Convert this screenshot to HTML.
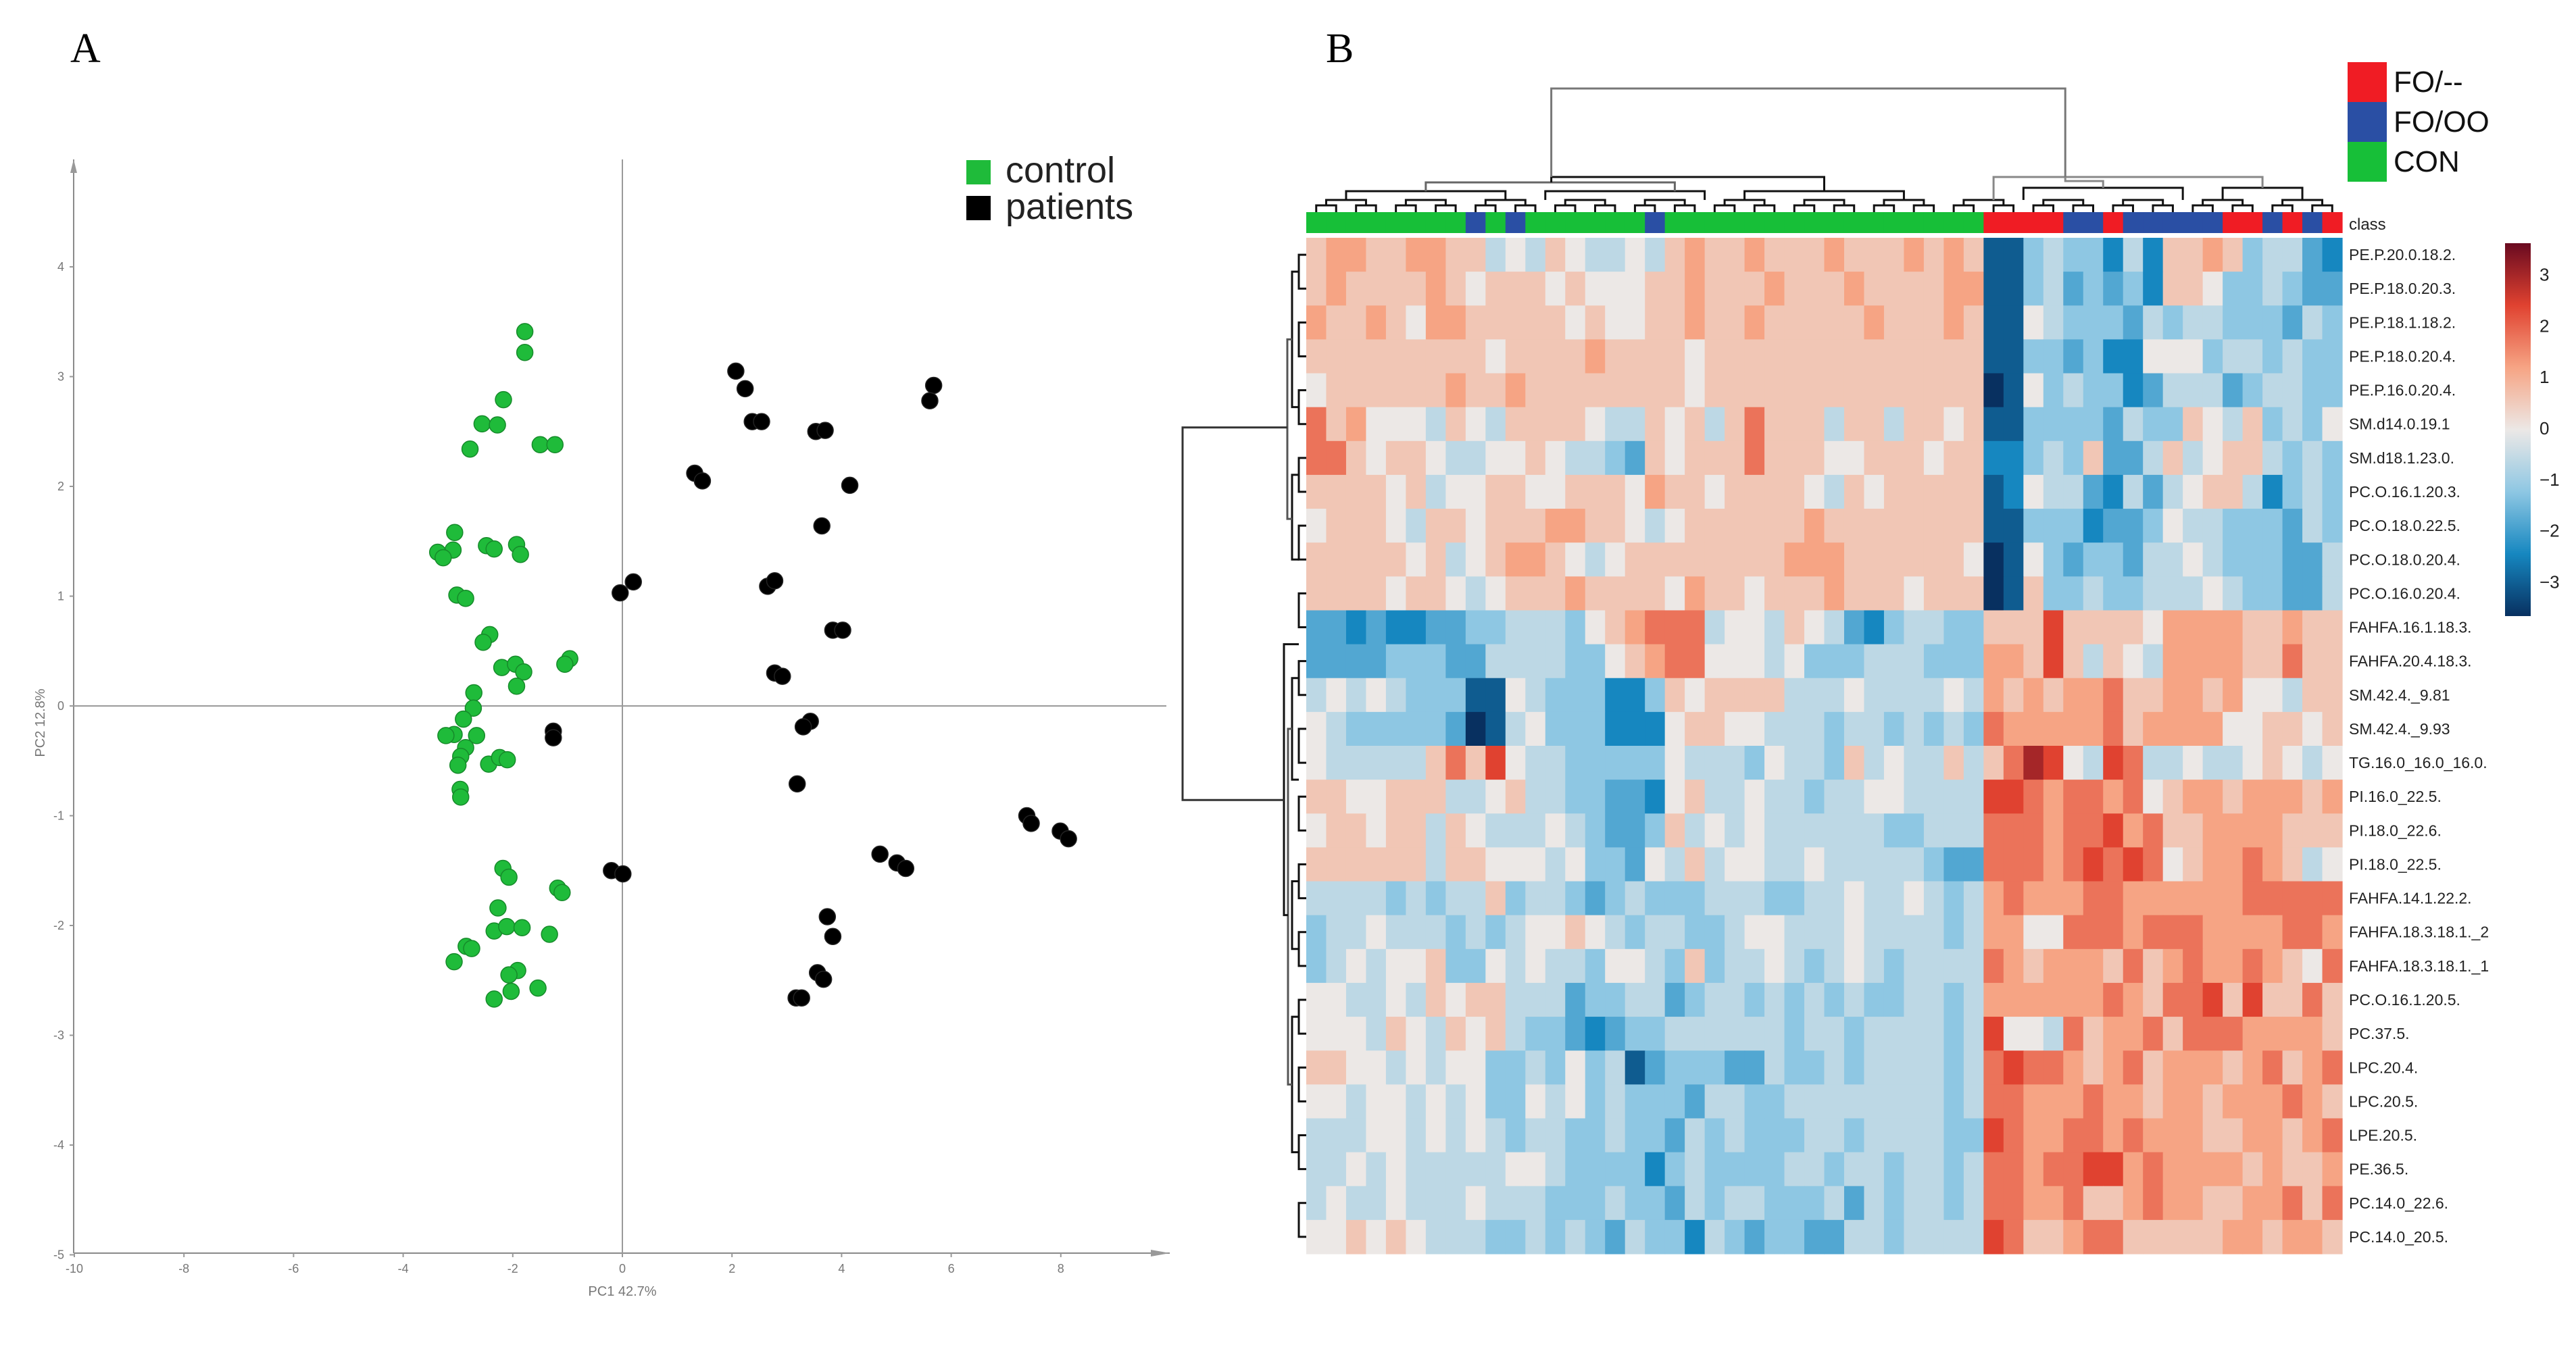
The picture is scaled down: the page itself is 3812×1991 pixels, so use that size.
<!DOCTYPE html>
<html><head><meta charset="utf-8">
<style>
html,body{margin:0;padding:0;background:#fff;}
svg{display:block;}
</style></head>
<body>
<svg id="fig" width="3812" height="1991" viewBox="0 0 3812 1991" xmlns="http://www.w3.org/2000/svg" font-family="Liberation Sans, sans-serif">
  <text x="104" y="92" font-family="Liberation Serif, serif" font-size="62">A</text>
  <text x="1962" y="92" font-family="Liberation Serif, serif" font-size="62">B</text>
  <g id="pca"></g>
  <g id="heat"></g>
</svg>
<script>
// ---------- PCA data ----------
const controlPC1 = [-1.78,-1.78,-2.17,-2.56,-2.28,-2.78,-1.5,-1.23,-3.06,-3.09,-3.37,-3.27,-2.48,-2.34,-1.93,-1.86,-3.02,-2.86,-2.42,-2.54,-2.2,-1.95,-1.8,-1.93,-0.96,-1.05,-2.71,-2.72,-2.9,-3.07,-3.22,-2.66,-2.86,-2.95,-3.0,-2.44,-2.24,-2.1,-2.96,-2.95,-2.18,-2.07,-1.18,-1.1,-2.27,-2.34,-2.11,-1.83,-1.33,-2.85,-2.75,-3.07,-1.91,-2.07,-1.54,-2.03,-2.34];
const controlPC2 = [3.41,3.22,2.79,2.57,2.56,2.34,2.38,2.38,1.58,1.42,1.40,1.35,1.46,1.43,1.47,1.38,1.01,0.98,0.65,0.58,0.35,0.38,0.31,0.18,0.43,0.38,0.12,-0.02,-0.12,-0.26,-0.27,-0.27,-0.38,-0.46,-0.54,-0.53,-0.47,-0.49,-0.76,-0.83,-1.48,-1.56,-1.66,-1.70,-1.84,-2.05,-2.01,-2.02,-2.08,-2.19,-2.21,-2.33,-2.41,-2.45,-2.57,-2.60,-2.67];
const patientPC1 = [2.07,2.24,2.37,2.54,5.68,5.61,3.53,3.70,1.32,1.46,4.15,3.64,0.2,-0.04,2.65,2.78,3.84,4.02,2.78,2.92,-1.26,-1.26,3.43,3.30,3.19,-0.2,0.01,4.70,5.01,5.17,7.38,7.46,7.99,8.14,3.74,3.84,3.56,3.67,3.17,3.27];
const patientPC2 = [3.05,2.89,2.59,2.59,2.92,2.78,2.50,2.51,2.12,2.05,2.01,1.64,1.13,1.03,1.09,1.14,0.69,0.69,0.30,0.27,-0.23,-0.29,-0.14,-0.19,-0.71,-1.50,-1.53,-1.35,-1.43,-1.48,-1.00,-1.07,-1.14,-1.21,-1.92,-2.10,-2.43,-2.49,-2.66,-2.66];
const xTicks = [-10,-8,-6,-4,-2,0,2,4,6,8];
const yTicks = [-5,-4,-3,-2,-1,0,1,2,3,4];

// ---------- Heatmap data ----------
const rowLabels = ["PE.P.20.0.18.2.","PE.P.18.0.20.3.","PE.P.18.1.18.2.","PE.P.18.0.20.4.","PE.P.16.0.20.4.","SM.d14.0.19.1","SM.d18.1.23.0.","PC.O.16.1.20.3.","PC.O.18.0.22.5.","PC.O.18.0.20.4.","PC.O.16.0.20.4.","FAHFA.16.1.18.3.","FAHFA.20.4.18.3.","SM.42.4._9.81","SM.42.4._9.93","TG.16.0_16.0_16.0.","PI.16.0_22.5.","PI.18.0_22.6.","PI.18.0_22.5.","FAHFA.14.1.22.2.","FAHFA.18.3.18.1._2","FAHFA.18.3.18.1._1","PC.O.16.1.20.5.","PC.37.5.","LPC.20.4.","LPC.20.5.","LPE.20.5.","PE.36.5.","PC.14.0_22.6.","PC.14.0_20.5."];
const columnClasses = "CCCCCCCCBCBCCCCCCBCCCCCCCCCCCCCCCC" + "RRRRBBRBBBBBRRBRBR";
const cellRows = [
"hiihhiihhfgfhgffgfhihhihhhihhhihih"+"bbefeecfchhiheffdc",
"hihhhhihghhhghggghhihhhihhhihhhhii"+"bbefdedechhgeefedd",
"ihhihgiihhhhhghgghhihhihhhhhihhhih"+"bbgfeeedfeffeeedfe",
"hhhhhhhhhghhhhihhhhghhhhhhhhhhhhhh"+"bbeedeccgggeffefee",
"ghhhhhhihhihhhhhhhhghhhhhhhhhhhhhh"+"abgefeecdfffdeffee",
"jhigggfhgfhhhhgffhghfhjhhhfhhfhhgh"+"bbeeeedfeehgfhefeg",
"jjhghhgffgghgffedhghhhjhhhgghhhghh"+"ccefehddfhfghhfefe",
"hhhhghfgghhgghhhgihhghhhhgfhghhhhh"+"bcgffdcfdfghhfcefe",
"ghhhgfhhghhhiihhgfghhhhhhihhhhhhhh"+"bbeeecddegffeeedfe",
"hhhhhghfghiihgfghhhhhhhhiiihhhhhhg"+"abgedeedffgfeeeddf",
"hhhhghhgfghhhihhhhgihhghhhihhhghhh"+"abheefeefffgfeeddf",
"ddcdccddeefffeghijjjfggfhgfdceffee"+"hhhkhhhhgiiiihhihh",
"ddddeeeddffffeeghijjgggfgeeefffeee"+"iihkhfhgfiiiihhjhh",
"fgfgfeeebbgfeeeccehghhhhfffgffffgf"+"ihihiijhhiihiggfhh",
"gfeeeeedabfgeeecccghhggfffeffefefe"+"jiiiiijhiiiigghhgh",
"gfffffhjhkgffeeeeegfffegffehfgffhf"+"hjlkgfkjffgffghgfg",
"hhgghhhffghffeeddcghffgffeffggffff"+"kkjijjijghiihiiihi",
"ghhghhfhgfffgfeddehfgfgffffffeefff"+"jjjijjkijhhiiiihhh",
"hhhhhhfhhgggfgeedgfhfggffgfffffedd"+"jjjijkjkjghiijihfg",
"ffffefeffheffedefeeefffeeffgffgfef"+"ijiiijjiiiiiijjjjj",
"effgfffefefgghgfeffeefggfffgffffef"+"iiggjjjijjjiiiijji",
"efgfggheegfgffeggfeheffgfefgfeffff"+"jihiiihjhijiijihgj",
"ggffgfhghhfffdeeffdeffefefefeeffef"+"iiiiiijihjjkhkhhjh",
"gggfhgfhghfeedcdeeffffffeffeffffef"+"kggfjhiijhjjjiiiih",
"hhggfgfggeefegefbdeeeddfeefeffffef"+"jkjjihijhiiihijhij",
"ggfggfgfgeegfgefeeedffeeffffffffef"+"jjiiijiihiihiiijih",
"fffggfgfgfeffeefeedfefeeeffeffffee"+"kjiijjijiiihhiihij",
"ffgfgfffffggfeeeecefeeeeffeffeffef"+"jjijjkkijiiiihihhi",
"fgffgfffgfffeeefeedfeffeeefdfeffef"+"jjiijhhijiihhiijhj",
"gghghgfffeefefedfeecfedeeddffeffff"+"kjhhijjhhhhhiihiih"
];
const colorbarTicks = [3,2,1,0,-1,-2,-3];
const classNames = ["FO/--","FO/OO","CON"];

const NS = "http://www.w3.org/2000/svg";
function mk(tag, attrs, parent){
  const e = document.createElementNS(NS, tag);
  for (const k in attrs) e.setAttribute(k, attrs[k]);
  parent.appendChild(e);
  return e;
}

// ---------- PCA ----------
const pca = document.getElementById('pca');
const X0 = 109, X1 = 1731, Y0 = 236, Yax = 1855;
const xs = v => 921 + v * 81.1;
const ys = v => 1045 - v * 162.5;

const yAxis = mk('line',{x1:X0,y1:Y0,x2:X0,y2:Yax,stroke:'#8a8a8a','stroke-width':2},pca);


const xAxis = mk('line',{x1:X0,y1:Yax,x2:X1,y2:Yax,stroke:'#8a8a8a','stroke-width':2},pca);


mk('polygon',{points:`${X0-5},${Y0+20} ${X0+5},${Y0+20} ${X0},${Y0}`,fill:'#999'},pca);
mk('polygon',{points:`${X1-28},${Yax-5} ${X1-28},${Yax+5} ${X1},${Yax}`,fill:'#999'},pca);
const vzero = mk('line',{x1:xs(0),y1:Y0,x2:xs(0),y2:Yax,stroke:'#9a9a9a','stroke-width':2},pca);


const hzero = mk('line',{x1:X0,y1:ys(0),x2:X1-5,y2:ys(0),stroke:'#9a9a9a','stroke-width':2},pca);



xTicks.forEach(t=>{
  const tk = mk('line',{x1:xs(t),y1:Yax,x2:xs(t),y2:Yax+6,stroke:'#999','stroke-width':2},pca);
  
  
  const tx = mk('text',{x:xs(t),y:Yax+29,'font-size':18,fill:'#777','text-anchor':'middle'},pca);
  tx.textContent = t;
  
  
});
yTicks.forEach(t=>{
  const tk = mk('line',{x1:X0-6,y1:ys(t),x2:X0,y2:ys(t),stroke:'#999','stroke-width':2},pca);
  
  
  const tx = mk('text',{x:X0-14,y:ys(t)+6,'font-size':18,fill:'#777','text-anchor':'end'},pca);
  tx.textContent = t;
  
  
});
const xt = mk('text',{x:921,y:1918,'font-size':20,fill:'#777','text-anchor':'middle'},pca);
xt.textContent = 'PC1 42.7%';


const yt = mk('text',{x:0,y:0,'font-size':20,fill:'#777','text-anchor':'middle',transform:'translate(66,1070) rotate(-90)'},pca);
yt.textContent = 'PC2 12.8%';



controlPC1.forEach((v,i)=>{
  const c = mk('circle',{cx:xs(v),cy:ys(controlPC2[i]),r:12,fill:'#1fbb3a',stroke:'#168a2a','stroke-width':1.5},pca);
  
  
});
patientPC1.forEach((v,i)=>{
  const c = mk('circle',{cx:xs(v),cy:ys(patientPC2[i]),r:12,fill:'#000',stroke:'#222','stroke-width':1.5},pca);
  
  
});
const lg1 = mk('rect',{x:1430,y:237,width:36,height:36,fill:'#1fbb3a'},pca);


const lt1 = mk('text',{x:1488,y:270,'font-size':54,fill:'#222'},pca);
lt1.textContent='control';


const lg2 = mk('rect',{x:1430,y:290,width:36,height:36,fill:'#000'},pca);


const lt2 = mk('text',{x:1488,y:324,'font-size':54,fill:'#222'},pca);
lt2.textContent='patients';



// ---------- Heatmap ----------
const heat = document.getElementById('heat');
const HL = 1933, HR = 3466, HT = 352, HB = 1856;
const nCol = columnClasses.length, nRow = cellRows.length;
const cw = (HR-HL)/nCol, rh = (HB-HT)/nRow;
const colX = j => HL + j*cw;
const rowY = i => HT + i*rh;
const stops = [[-3,[8,48,96]],[-2,[22,135,192]],[-1,[142,199,227]],[0,[236,232,230]],[1,[246,164,132]],[2,[224,66,48]],[3,[105,10,32]]];
function colorOf(v){
  v = Math.max(-3,Math.min(3,v));
  for(let k=0;k<stops.length-1;k++){
    const [a,ca]=stops[k],[b,cb]=stops[k+1];
    if(v>=a && v<=b){const t=(v-a)/(b-a);
      return 'rgb('+ca.map((c,q)=>Math.round(c+(cb[q]-c)*t)).join(',')+')';}
  }
  return 'rgb(236,232,230)';
}
const codeVal = ch => (ch.charCodeAt(0)-103)*0.5;
const classColor = {C:'#17bf38',B:'#2a4fa4',R:'#f01c24'};

cellRows.forEach((row,i)=>{
  for(let j=0;j<nCol;j++){
    const r = mk('rect',{x:colX(j).toFixed(2),y:rowY(i).toFixed(2),width:(cw+0.6).toFixed(2),height:(rh+0.6).toFixed(2),fill:colorOf(codeVal(row[j]))},heat);
    
    
  }
  const t = mk('text',{x:3476,y:(rowY(i)+rh/2+8).toFixed(1),'font-size':23,fill:'#222'},heat);
  t.textContent = rowLabels[i];
  
  
});
for(let j=0;j<nCol;j++){
  const r = mk('rect',{x:colX(j).toFixed(2),y:314,width:(cw+0.6).toFixed(2),height:31,fill:classColor[columnClasses[j]]},heat);
  
  
}
const cl = mk('text',{x:3476,y:340,'font-size':24,fill:'#222'},heat);
cl.textContent='class';



const dend = mk('g',{stroke:'#111','stroke-width':3,fill:'none'},heat);


function bracket(xa,xb,y,yl,yr,g,col){
  mk('path',{d:`M${xa},${yl} V${y} H${xb} V${yr}`,stroke:col||'#111'},g);
}
for(let j=0;j+1<nCol;j+=2){ bracket(colX(j)+cw/2,colX(j+1)+cw/2,304,314,314,dend); }
for(let j=0;j+3<nCol;j+=4){ bracket(colX(j)+cw,colX(j+2)+cw,296,304,304,dend); }
bracket(colX(2),colX(10),283,296,296,dend);
bracket(colX(12),colX(20),283,296,296,dend);
bracket(colX(22),colX(30),283,296,296,dend);
bracket(colX(6),colX(18.5),270,283,283,dend,'#666');
bracket(colX(12.3),colX(26),262,270,283,dend);
bracket(colX(36),colX(44),278,296,296,dend);
bracket(colX(46),colX(50),278,296,296,dend);
bracket(colX(34.5),colX(48),262,296,278,dend,'#888');
bracket(colX(38.1),colX(40),268,262,278,dend,'#888');
bracket(colX(12.3),colX(38.1),131,262,262,dend,'#777');

const rd = mk('g',{stroke:'#111','stroke-width':3,fill:'none'},heat);


function rbr(ya,yb,x,xl,xr,col){ mk('path',{d:`M${xl},${ya} H${x} V${yb} H${xr}`,stroke:col||'#111'},rd); }
for(let i=0;i+1<nRow;i+=2){ rbr(rowY(i)+rh/2,rowY(i+1)+rh/2,1922,HL,HL); }
rbr(rowY(1),rowY(5),1912,1922,1922);
rbr(rowY(7),rowY(9.5),1912,1922,1922);
rbr(rowY(3),rowY(8.3),1905,1912,1912,'#555');
rbr(rowY(13),rowY(16),1912,1922,1922);
rbr(rowY(19),rowY(21),1912,1922,1922);
rbr(rowY(23),rowY(27),1912,1922,1922);
rbr(rowY(14.5),rowY(25),1906,1912,1912,'#555');
rbr(rowY(12),rowY(20),1900,1922,1906);
rbr(rowY(5.6),rowY(16.6),1750,1905,1900,'#333');

const lcols = ['#f01c24','#2a4fa4','#17bf38'];
classNames.forEach((n,k)=>{
  const r = mk('rect',{x:3474,y:92+k*59,width:58,height:59,fill:lcols[k]},heat);
  
  
  const t = mk('text',{x:3542,y:136+k*59,'font-size':44,fill:'#111'},heat);
  t.textContent = n;
  
  
});

const defs = mk('defs',{},heat);
const grad = mk('linearGradient',{id:'cbg',x1:0,y1:1,x2:0,y2:0},defs);
stops.forEach(s=>{ mk('stop',{offset:((s[0]+3)/6*100)+'%','stop-color':colorOf(s[0])},grad); });
const cbTop = 360, cbBot = 912;
const cb = mk('rect',{x:3707,y:cbTop,width:38,height:cbBot-cbTop,fill:'url(#cbg)'},heat);


const cbY = v => 634 - v*75.8;
colorbarTicks.forEach(v=>{
  const t = mk('text',{x:3758,y:cbY(v)+9,'font-size':26,fill:'#222'},heat);
  t.textContent = v<0 ? '\u2212'+Math.abs(v) : String(v);
  
  
});
</script>
</body></html>
